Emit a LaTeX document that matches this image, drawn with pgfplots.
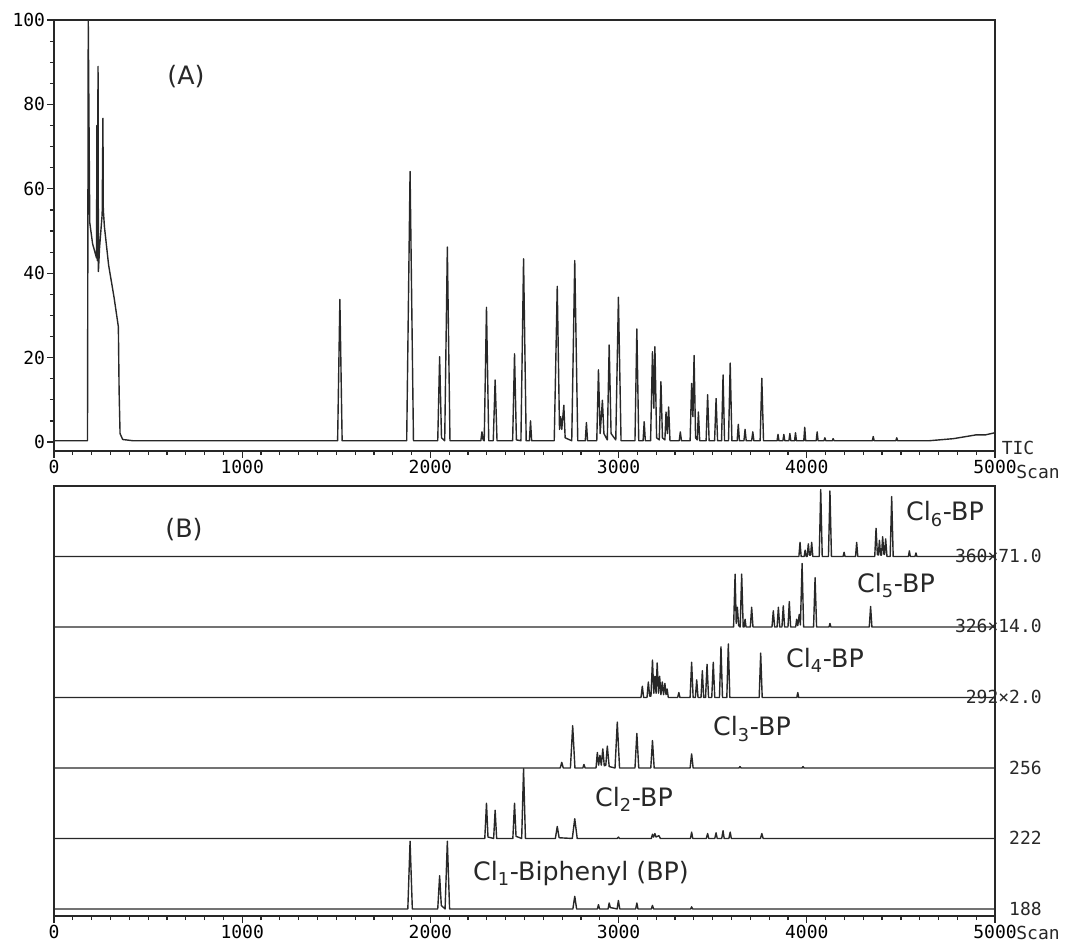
\documentclass[border=0pt]{standalone}
\usepackage{fontspec}
\setmainfont{DejaVu Sans}
\newfontfamily\mono{DejaVu Sans Mono}
\usepackage{pgfplots}
\pgfplotsset{compat=1.18}
\definecolor{ink}{RGB}{40,40,40}
\newcommand{\tickfont}{\mono\fontsize{13.5}{13.5}\selectfont}
\newcommand{\labfont}{\fontsize{19}{19}\selectfont}
\pgfplotsset{
  chrom/.style={
    scale only axis, width=705.75pt, xmin=0, xmax=5000,
    axis line style={ink, line width=1.3pt},
    every tick/.style={ink, line width=0.9pt},
    xtick={0,1000,2000,3000,4000,5000},
    xticklabels={0,1000,2000,3000,4000,5000},
    minor x tick num=9,
    tick pos=left, tick align=outside,
    major tick length=5pt, minor tick length=3pt,
    xticklabel style={font=\tickfont, inner sep=1.5pt},
    yticklabel style={font=\tickfont, inner sep=1.5pt},
  },
  trace/.style={ink, line width=1.05pt, line join=round, mark=none},
}
\begin{document}
\begin{tikzpicture}[x=0.75pt, y=-0.75pt]
\useasboundingbox (0,0) rectangle (1065,946);
% ---------------- (A) TIC ----------------
\begin{axis}[chrom, at={(40.5pt,-338.25pt)}, anchor=south west,
  height=323.25pt, ymin=-2.13, ymax=100,
  ytick={0,20,40,60,80,100}, yticklabels={0,20,40,60,80,100},
  minor y tick num=3]
\addplot[trace] table {
x y
0 0.3
178 0.3
182 100
190 52
205 47
226 43.6
228 75
230 43
234 89
236 40.4
242 46
256 54
260 76.7
262 55
268 51
290 42
320 34
342 27.3
346 12
351 2
365 0.6
420 0.3
1507 0.3
1519 33.8
1531 0.3
1874 0.3
1892 64.1
1910 0.3
2039 0.3
2049 20.2
2059 1
2076 0.3
2090 46.2
2104 0.3
2268 0.3
2274 2.4
2280 0.5
2286 0.3
2298 31.9
2310 0.3
2334 0.3
2344 14.7
2354 0.3
2437 0.3
2447 20.9
2457 0.5
2481 0.3
2495 43.4
2509 0.3
2526 0.3
2532 5
2538 0.3
2658 0.3
2674 36.9
2686 3
2692 6
2698 3
2709 8.7
2716 1
2751 0.3
2767 43.0
2783 0.3
2823 0.3
2829 4.6
2835 0.3
2884 0.3
2893 17.1
2902 2
2914 9.9
2922 2
2940 0.5
2950 23.0
2960 2
2985 0.5
2999 34.3
3013 0.3
3087 0.3
3097 26.8
3107 0.3
3130 0.3
3136 4.8
3142 0.3
3170 0.3
3180 21.4
3187 8
3193 22.6
3202 1
3216 0.5
3225 14.3
3233 1
3246 0.5
3252 7.1
3259 2
3266 8.3
3273 0.3
3322 0.3
3328 2.4
3334 0.3
3380 0.3
3388 13.9
3395 6
3401 20.5
3409 1
3418 0.5
3424 7.1
3431 0.3
3465 0.3
3473 11.2
3481 0.3
3510 0.3
3518 10.3
3526 0.3
3547 0.3
3555 15.9
3563 0.3
3584 0.3
3593 18.7
3602 0.3
3630 0.3
3636 4.2
3642 0.3
3666 0.3
3672 3
3678 0.3
3707 0.3
3713 2.4
3719 0.3
3752 0.3
3761 15.1
3770 0.3
3842 0.3
3847 1.8
3852 0.3
3873 0.3
3878 1.8
3883 0.3
3905 0.3
3910 2.0
3915 0.3
3935 0.3
3940 2.2
3945 0.3
3984 0.3
3989 3.5
3994 0.3
4050 0.3
4055 2.4
4060 0.3
4091 0.3
4096 1
4101 0.3
4135 0.3
4140 0.8
4145 0.3
4348 0.3
4353 1.3
4358 0.3
4473 0.3
4478 1
4483 0.3
4650 0.3
4780 0.8
4900 1.7
4950 1.7
5000 2.2
};
\draw[ink, line width=0.9pt] (axis cs:5000,0.3) -- ++(5pt,0);
\end{axis}
% ---------------- (B) SIM traces ----------------
\begin{axis}[chrom, at={(40.5pt,-687pt)}, anchor=south west,
  height=322.5pt, ymin=-0.1, ymax=6, ytick=\empty]
% Cl1 (m/z 188)
\addplot[trace] table[x=x, y expr=\thisrow{y}+0] {
x y
0 0
1880 0
1892 0.96
1904 0
2039 0
2049 0.47
2058 0.05
2078 0
2090 0.96
2102 0
2757 0
2767 0.18
2777 0
2887 0
2893 0.06
2899 0
2944 0
2950 0.085
2956 0.02
2992 0
2999 0.12
3006 0
3091 0
3097 0.085
3103 0
3174 0
3180 0.05
3186 0
3383 0
3388 0.03
3393 0
5000 0
};
% Cl2 (m/z 222)
\addplot[trace] table[x=x, y expr=\thisrow{y}+1] {
x y
0 0
2289 0
2298 0.5
2306 0.02
2336 0
2344 0.4
2352 0
2438 0
2447 0.5
2455 0.03
2485 0
2495 0.99
2505 0
2664 0
2674 0.17
2684 0.01
2754 0
2767 0.28
2780 0
2993 0
2999 0.02
3005 0
3174 0
3180 0.06
3186 0.02
3193 0.07
3199 0.02
3214 0.04
3222 0
3382 0
3388 0.09
3394 0
3466 0
3473 0.07
3479 0
3511 0
3518 0.08
3524 0
3548 0
3555 0.11
3561 0
3586 0
3593 0.09
3599 0
3754 0
3761 0.07
3768 0
5000 0
};
% Cl3 (m/z 256)
\addplot[trace] table[x=x, y expr=\thisrow{y}+2] {
x y
0 0
2690 0
2698 0.08
2706 0
2744 0
2756 0.6
2768 0
2810 0
2816 0.05
2822 0
2880 0
2887 0.22
2894 0.04
2901 0.18
2908 0.04
2916 0.27
2924 0.03
2932 0.04
2940 0.31
2950 0.02
2981 0
2993 0.65
3005 0
3087 0
3097 0.49
3107 0
3171 0
3180 0.39
3189 0
3380 0
3388 0.2
3396 0
3640 0
3645 0.02
3650 0
3975 0
3980 0.02
3985 0
5000 0
};
% Cl4 (m/z 292 x2.0)
\addplot[trace] table[x=x, y expr=\thisrow{y}+3] {
x y
0 0
3119 0
3126 0.16
3133 0
3151 0
3158 0.22
3165 0.02
3172 0.02
3180 0.53
3187 0.06
3193 0.3
3199 0.06
3205 0.49
3212 0.06
3218 0.3
3225 0.04
3232 0.22
3239 0.04
3246 0.2
3252 0.04
3258 0.12
3264 0
3314 0
3320 0.07
3326 0
3380 0
3388 0.5
3396 0
3408 0
3415 0.25
3422 0
3438 0
3445 0.38
3452 0
3462 0
3470 0.47
3478 0
3495 0
3503 0.5
3511 0
3536 0
3544 0.72
3552 0
3575 0
3583 0.76
3591 0
3747 0
3755 0.63
3763 0
3947 0
3952 0.07
3957 0
5000 0
};
% Cl5 (m/z 326 x14.0)
\addplot[trace] table[x=x, y expr=\thisrow{y}+4] {
x y
0 0
3611 0
3619 0.75
3625 0.05
3631 0.28
3638 0.02
3646 0
3654 0.75
3662 0
3667 0
3672 0.11
3677 0
3700 0
3707 0.28
3714 0
3815 0
3822 0.23
3829 0
3842 0
3849 0.28
3856 0
3868 0
3875 0.3
3882 0
3900 0
3907 0.36
3914 0
3941 0
3946 0.11
3952 0.02
3960 0.18
3966 0.03
3975 0.9
3983 0
4036 0
4044 0.7
4052 0
4118 0
4123 0.05
4128 0
4332 0
4339 0.29
4346 0
5000 0
};
% Cl6 (m/z 360 x71.0)
\addplot[trace] table[x=x, y expr=\thisrow{y}+5] {
x y
0 0
3958 0
3964 0.2
3970 0
3986 0
3991 0.09
3997 0
4002 0
4008 0.18
4014 0.02
4020 0.02
4026 0.2
4032 0
4066 0
4074 0.95
4082 0
4115 0
4123 0.93
4131 0
4193 0
4198 0.06
4203 0
4259 0
4265 0.2
4271 0
4361 0
4368 0.4
4375 0.03
4380 0.02
4386 0.23
4392 0.02
4397 0.02
4403 0.28
4410 0.03
4413 0.03
4419 0.25
4426 0
4443 0
4451 0.85
4459 0
4540 0
4545 0.08
4550 0
4575 0
4580 0.05
4585 0
5000 0
};
\draw[ink, line width=0.9pt] (axis cs:5000,0) -- ++(5pt,0);
\draw[ink, line width=0.9pt] (axis cs:5000,1) -- ++(5pt,0);
\draw[ink, line width=0.9pt] (axis cs:5000,2) -- ++(5pt,0);
\end{axis}
% ---------------- annotations ----------------
\begin{scope}[text=ink]
\node[font=\labfont] at (186,77) {(A)};
\node[font=\labfont] at (184,530) {(B)};
\node[font=\tickfont] at (1018,448) {TIC};
\node[font=\tickfont] at (1038,472) {Scan};
\node[font=\tickfont] at (1038,933) {Scan};
\node[font=\labfont] at (945,514) {Cl\textsubscript{6}-BP};
\node[font=\labfont] at (896,585) {Cl\textsubscript{5}-BP};
\node[font=\labfont] at (825,660) {Cl\textsubscript{4}-BP};
\node[font=\labfont] at (752,729) {Cl\textsubscript{3}-BP};
\node[font=\labfont] at (634,799) {Cl\textsubscript{2}-BP};
\node[font=\labfont] at (581,874) {Cl\textsubscript{1}-Biphenyl (BP)};
\node[font=\tickfont, anchor=east, inner sep=0pt] at (1042,556) {360×71.0};
\node[font=\tickfont, anchor=east, inner sep=0pt] at (1042,626) {326×14.0};
\node[font=\tickfont, anchor=east, inner sep=0pt] at (1042,697) {292×2.0};
\node[font=\tickfont, anchor=east, inner sep=0pt] at (1042,768) {256};
\node[font=\tickfont, anchor=east, inner sep=0pt] at (1042,838) {222};
\node[font=\tickfont, anchor=east, inner sep=0pt] at (1042,909) {188};
\end{scope}
\end{tikzpicture}
\end{document}
